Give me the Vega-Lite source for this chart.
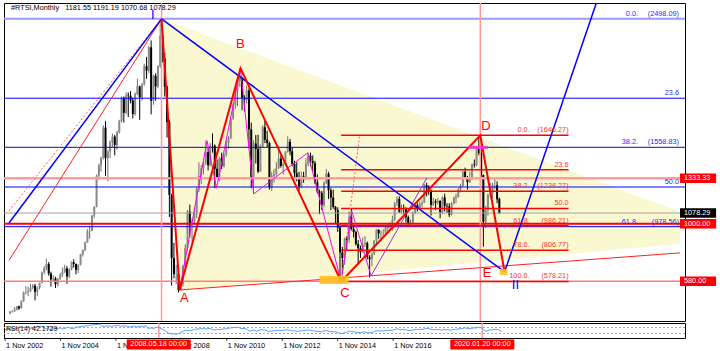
{
"$schema":"https://vega.github.io/schema/vega-lite/v6.json",
"padding":{"left":2,"top":2,"right":0,"bottom":0},
"background":"#ffffff",
"spacing":2,
"bounds":"flush",
"config":{
 "view":{"stroke":"#000000","strokeWidth":1},
 "font":"Liberation Sans",
 "axis":{"labelFont":"Liberation Sans","labelFontSize":7.3,"labelColor":"#000000","tickColor":"#000000","domain":false,"grid":false,"title":null},
 "text":{"font":"Liberation Sans","fontSize":7.3}
},
"datasets":{
 "k":[
{"t":"2002-11-01","o":345,"h":362,"l":338,"c":356,"r":55},
{"t":"2002-12-01","o":356,"h":368,"l":350,"c":359,"r":56},
{"t":"2003-01-01","o":359,"h":392,"l":357,"c":373,"r":58},
{"t":"2003-02-01","o":373,"h":400,"l":366,"c":395,"r":60},
{"t":"2003-03-01","o":395,"h":402,"l":370,"c":383,"r":58},
{"t":"2003-04-01","o":383,"h":440,"l":380,"c":433,"r":63},
{"t":"2003-05-01","o":433,"h":505,"l":430,"c":498,"r":70},
{"t":"2003-06-01","o":498,"h":545,"l":482,"c":501,"r":70},
{"t":"2003-07-01","o":501,"h":540,"l":470,"c":509,"r":70},
{"t":"2003-08-01","o":509,"h":560,"l":500,"c":530,"r":72},
{"t":"2003-09-01","o":530,"h":560,"l":520,"c":547,"r":73},
{"t":"2003-10-01","o":547,"h":560,"l":440,"c":502,"r":65},
{"t":"2003-11-01","o":502,"h":540,"l":470,"c":533,"r":67},
{"t":"2003-12-01","o":533,"h":570,"l":520,"c":567,"r":70},
{"t":"2004-01-01","o":567,"h":650,"l":565,"c":643,"r":75},
{"t":"2004-02-01","o":643,"h":690,"l":630,"c":676,"r":77},
{"t":"2004-03-01","o":676,"h":745,"l":660,"c":705,"r":78},
{"t":"2004-04-01","o":705,"h":720,"l":620,"c":636,"r":68},
{"t":"2004-05-01","o":636,"h":650,"l":540,"c":593,"r":60},
{"t":"2004-06-01","o":593,"h":625,"l":580,"c":600,"r":61},
{"t":"2004-07-01","o":600,"h":612,"l":530,"c":557,"r":56},
{"t":"2004-08-01","o":557,"h":605,"l":540,"c":598,"r":60},
{"t":"2004-09-01","o":598,"h":640,"l":590,"c":627,"r":63},
{"t":"2004-10-01","o":627,"h":680,"l":610,"c":649,"r":65},
{"t":"2004-11-01","o":649,"h":700,"l":640,"c":674,"r":67},
{"t":"2004-12-01","o":674,"h":690,"l":560,"c":614,"r":60},
{"t":"2005-01-01","o":614,"h":675,"l":600,"c":667,"r":65},
{"t":"2005-02-01","o":667,"h":725,"l":660,"c":719,"r":70},
{"t":"2005-03-01","o":719,"h":740,"l":680,"c":706,"r":68},
{"t":"2005-04-01","o":706,"h":710,"l":630,"c":662,"r":62},
{"t":"2005-05-01","o":662,"h":705,"l":640,"c":700,"r":66},
{"t":"2005-06-01","o":700,"h":780,"l":695,"c":776,"r":72},
{"t":"2005-07-01","o":776,"h":812,"l":760,"c":808,"r":74},
{"t":"2005-08-01","o":808,"h":870,"l":800,"c":864,"r":77},
{"t":"2005-09-01","o":864,"h":960,"l":860,"c":945,"r":80},
{"t":"2005-10-01","o":945,"h":980,"l":890,"c":950,"r":80},
{"t":"2005-11-01","o":950,"h":1065,"l":945,"c":1060,"r":83},
{"t":"2005-12-01","o":1060,"h":1128,"l":1040,"c":1125,"r":85},
{"t":"2006-01-01","o":1125,"h":1360,"l":1120,"c":1350,"r":88},
{"t":"2006-02-01","o":1350,"h":1440,"l":1320,"c":1426,"r":89},
{"t":"2006-03-01","o":1426,"h":1490,"l":1380,"c":1481,"r":90},
{"t":"2006-04-01","o":1481,"h":1720,"l":1470,"c":1703,"r":92},
{"t":"2006-05-01","o":1703,"h":1750,"l":1350,"c":1480,"r":78},
{"t":"2006-06-01","o":1480,"h":1540,"l":1310,"c":1526,"r":79},
{"t":"2006-07-01","o":1526,"h":1610,"l":1480,"c":1596,"r":80},
{"t":"2006-08-01","o":1596,"h":1660,"l":1560,"c":1637,"r":81},
{"t":"2006-09-01","o":1637,"h":1650,"l":1500,"c":1576,"r":77},
{"t":"2006-10-01","o":1576,"h":1680,"l":1540,"c":1670,"r":80},
{"t":"2006-11-01","o":1670,"h":1760,"l":1660,"c":1750,"r":82},
{"t":"2006-12-01","o":1750,"h":1930,"l":1740,"c":1921,"r":85},
{"t":"2007-01-01","o":1921,"h":1930,"l":1740,"c":1811,"r":78},
{"t":"2007-02-01","o":1811,"h":1960,"l":1800,"c":1938,"r":81},
{"t":"2007-03-01","o":1938,"h":1960,"l":1780,"c":1935,"r":80},
{"t":"2007-04-01","o":1935,"h":1970,"l":1880,"c":1901,"r":78},
{"t":"2007-05-01","o":1901,"h":1920,"l":1770,"c":1802,"r":73},
{"t":"2007-06-01","o":1802,"h":1960,"l":1790,"c":1950,"r":77},
{"t":"2007-07-01","o":1950,"h":2060,"l":1940,"c":2005,"r":79},
{"t":"2007-08-01","o":2005,"h":2010,"l":1760,"c":1924,"r":73},
{"t":"2007-09-01","o":1924,"h":2030,"l":1900,"c":2020,"r":77},
{"t":"2007-10-01","o":2020,"h":2170,"l":2010,"c":2153,"r":80},
{"t":"2007-11-01","o":2153,"h":2220,"l":2060,"c":2119,"r":78},
{"t":"2007-12-01","o":2119,"h":2300,"l":2100,"c":2290,"r":81},
{"t":"2008-01-01","o":2290,"h":2340,"l":1800,"c":1897,"r":62},
{"t":"2008-02-01","o":1897,"h":2090,"l":1870,"c":2082,"r":68},
{"t":"2008-03-01","o":2082,"h":2100,"l":1900,"c":2004,"r":64},
{"t":"2008-04-01","o":2004,"h":2160,"l":1990,"c":2151,"r":68},
{"t":"2008-05-01","o":2151,"h":2498,"l":2140,"c":2374,"r":73},
{"t":"2008-06-01","o":2374,"h":2420,"l":2180,"c":2209,"r":66},
{"t":"2008-07-01","o":2209,"h":2250,"l":1930,"c":2003,"r":60},
{"t":"2008-08-01","o":2003,"h":2010,"l":1630,"c":1743,"r":52},
{"t":"2008-09-01","o":1743,"h":1760,"l":1050,"c":1211,"r":40},
{"t":"2008-10-01","o":1211,"h":1220,"l":549,"c":749,"r":30},
{"t":"2008-11-01","o":749,"h":860,"l":600,"c":632,"r":28},
{"t":"2008-12-01","o":632,"h":700,"l":560,"c":632,"r":28},
{"t":"2009-01-01","o":632,"h":640,"l":498,"c":513,"r":26},
{"t":"2009-02-01","o":513,"h":570,"l":510,"c":557,"r":29},
{"t":"2009-03-01","o":557,"h":700,"l":540,"c":689,"r":37},
{"t":"2009-04-01","o":689,"h":850,"l":650,"c":822,"r":43},
{"t":"2009-05-01","o":822,"h":1100,"l":800,"c":1088,"r":53},
{"t":"2009-06-01","o":1088,"h":1140,"l":900,"c":987,"r":49},
{"t":"2009-07-01","o":987,"h":1040,"l":870,"c":1018,"r":50},
{"t":"2009-08-01","o":1018,"h":1120,"l":990,"c":1074,"r":52},
{"t":"2009-09-01","o":1074,"h":1270,"l":1040,"c":1254,"r":57},
{"t":"2009-10-01","o":1254,"h":1450,"l":1230,"c":1350,"r":60},
{"t":"2009-11-01","o":1350,"h":1430,"l":1290,"c":1406,"r":61},
{"t":"2009-12-01","o":1406,"h":1460,"l":1360,"c":1444,"r":62},
{"t":"2010-01-01","o":1444,"h":1610,"l":1430,"c":1524,"r":64},
{"t":"2010-02-01","o":1524,"h":1560,"l":1390,"c":1427,"r":59},
{"t":"2010-03-01","o":1427,"h":1590,"l":1420,"c":1572,"r":63},
{"t":"2010-04-01","o":1572,"h":1660,"l":1520,"c":1571,"r":63},
{"t":"2010-05-01","o":1571,"h":1580,"l":1260,"c":1402,"r":56},
{"t":"2010-06-01","o":1402,"h":1470,"l":1330,"c":1339,"r":53},
{"t":"2010-07-01","o":1339,"h":1490,"l":1310,"c":1479,"r":58},
{"t":"2010-08-01","o":1479,"h":1520,"l":1400,"c":1421,"r":56},
{"t":"2010-09-01","o":1421,"h":1520,"l":1410,"c":1507,"r":59},
{"t":"2010-10-01","o":1507,"h":1610,"l":1490,"c":1588,"r":61},
{"t":"2010-11-01","o":1588,"h":1640,"l":1550,"c":1627,"r":62},
{"t":"2010-12-01","o":1627,"h":1780,"l":1620,"c":1770,"r":66},
{"t":"2011-01-01","o":1770,"h":1880,"l":1760,"c":1869,"r":68},
{"t":"2011-02-01","o":1869,"h":2000,"l":1840,"c":1980,"r":70},
{"t":"2011-03-01","o":1980,"h":2060,"l":1860,"c":2044,"r":71},
{"t":"2011-04-01","o":2044,"h":2136,"l":2000,"c":2069,"r":72},
{"t":"2011-05-01","o":2069,"h":2070,"l":1830,"c":1922,"r":64},
{"t":"2011-06-01","o":1922,"h":1940,"l":1820,"c":1906,"r":63},
{"t":"2011-07-01","o":1906,"h":2010,"l":1880,"c":1975,"r":65},
{"t":"2011-08-01","o":1975,"h":1990,"l":1550,"c":1690,"r":55},
{"t":"2011-09-01","o":1690,"h":1740,"l":1260,"c":1342,"r":44},
{"t":"2011-10-01","o":1342,"h":1610,"l":1220,"c":1587,"r":52},
{"t":"2011-11-01","o":1587,"h":1650,"l":1440,"c":1547,"r":51},
{"t":"2011-12-01","o":1547,"h":1650,"l":1370,"c":1382,"r":46},
{"t":"2012-01-01","o":1382,"h":1580,"l":1380,"c":1564,"r":52},
{"t":"2012-02-01","o":1564,"h":1720,"l":1560,"c":1706,"r":56},
{"t":"2012-03-01","o":1706,"h":1750,"l":1590,"c":1615,"r":53},
{"t":"2012-04-01","o":1615,"h":1680,"l":1560,"c":1590,"r":52},
{"t":"2012-05-01","o":1590,"h":1600,"l":1250,"c":1267,"r":43},
{"t":"2012-06-01","o":1267,"h":1380,"l":1240,"c":1350,"r":46},
{"t":"2012-07-01","o":1350,"h":1400,"l":1300,"c":1362,"r":47},
{"t":"2012-08-01","o":1362,"h":1450,"l":1350,"c":1408,"r":49},
{"t":"2012-09-01","o":1408,"h":1570,"l":1400,"c":1476,"r":51},
{"t":"2012-10-01","o":1476,"h":1500,"l":1410,"c":1423,"r":49},
{"t":"2012-11-01","o":1423,"h":1450,"l":1360,"c":1436,"r":50},
{"t":"2012-12-01","o":1436,"h":1530,"l":1430,"c":1527,"r":53},
{"t":"2013-01-01","o":1527,"h":1640,"l":1520,"c":1600,"r":55},
{"t":"2013-02-01","o":1600,"h":1620,"l":1500,"c":1530,"r":52},
{"t":"2013-03-01","o":1530,"h":1560,"l":1420,"c":1438,"r":49},
{"t":"2013-04-01","o":1438,"h":1460,"l":1330,"c":1370,"r":47},
{"t":"2013-05-01","o":1370,"h":1450,"l":1310,"c":1334,"r":46},
{"t":"2013-06-01","o":1334,"h":1380,"l":1240,"c":1275,"r":44},
{"t":"2013-07-01","o":1275,"h":1380,"l":1260,"c":1346,"r":48},
{"t":"2013-08-01","o":1346,"h":1380,"l":1300,"c":1340,"r":48},
{"t":"2013-09-01","o":1340,"h":1480,"l":1320,"c":1440,"r":51},
{"t":"2013-10-01","o":1440,"h":1520,"l":1420,"c":1499,"r":53},
{"t":"2013-11-01","o":1499,"h":1520,"l":1420,"c":1460,"r":51},
{"t":"2013-12-01","o":1460,"h":1500,"l":1380,"c":1443,"r":51},
{"t":"2014-01-01","o":1443,"h":1460,"l":1290,"c":1302,"r":46},
{"t":"2014-02-01","o":1302,"h":1360,"l":1220,"c":1236,"r":44},
{"t":"2014-03-01","o":1236,"h":1250,"l":1070,"c":1226,"r":44},
{"t":"2014-04-01","o":1226,"h":1240,"l":1100,"c":1136,"r":41},
{"t":"2014-05-01","o":1136,"h":1310,"l":1120,"c":1299,"r":47},
{"t":"2014-06-01","o":1299,"h":1400,"l":1290,"c":1366,"r":50},
{"t":"2014-07-01","o":1366,"h":1380,"l":1180,"c":1244,"r":46},
{"t":"2014-08-01","o":1244,"h":1260,"l":1100,"c":1192,"r":44},
{"t":"2014-09-01","o":1192,"h":1250,"l":1110,"c":1124,"r":42},
{"t":"2014-10-01","o":1124,"h":1130,"l":1000,"c":1100,"r":41},
{"t":"2014-11-01","o":1100,"h":1120,"l":940,"c":972,"r":37},
{"t":"2014-12-01","o":972,"h":1000,"l":578,"c":791,"r":31},
{"t":"2015-01-01","o":791,"h":830,"l":629,"c":749,"r":30},
{"t":"2015-02-01","o":749,"h":900,"l":700,"c":890,"r":38},
{"t":"2015-03-01","o":890,"h":910,"l":800,"c":880,"r":38},
{"t":"2015-04-01","o":880,"h":1090,"l":860,"c":1051,"r":47},
{"t":"2015-05-01","o":1051,"h":1110,"l":950,"c":961,"r":43},
{"t":"2015-06-01","o":961,"h":990,"l":900,"c":940,"r":42},
{"t":"2015-07-01","o":940,"h":950,"l":840,"c":852,"r":38},
{"t":"2015-08-01","o":852,"h":880,"l":710,"c":821,"r":37},
{"t":"2015-09-01","o":821,"h":840,"l":750,"c":792,"r":36},
{"t":"2015-10-01","o":792,"h":900,"l":790,"c":850,"r":40},
{"t":"2015-11-01","o":850,"h":910,"l":830,"c":859,"r":40},
{"t":"2015-12-01","o":859,"h":870,"l":740,"c":757,"r":35},
{"t":"2016-01-01","o":757,"h":770,"l":607,"c":740,"r":34},
{"t":"2016-02-01","o":740,"h":790,"l":690,"c":782,"r":38},
{"t":"2016-03-01","o":782,"h":880,"l":770,"c":876,"r":44},
{"t":"2016-04-01","o":876,"h":960,"l":850,"c":956,"r":49},
{"t":"2016-05-01","o":956,"h":960,"l":890,"c":929,"r":47},
{"t":"2016-06-01","o":929,"h":950,"l":870,"c":930,"r":47},
{"t":"2016-07-01","o":930,"h":960,"l":900,"c":931,"r":47},
{"t":"2016-08-01","o":931,"h":985,"l":920,"c":971,"r":50},
{"t":"2016-09-01","o":971,"h":1000,"l":940,"c":989,"r":51},
{"t":"2016-10-01","o":989,"h":1010,"l":960,"c":990,"r":51},
{"t":"2016-11-01","o":990,"h":1060,"l":950,"c":1031,"r":53},
{"t":"2016-12-01","o":1031,"h":1160,"l":1020,"c":1152,"r":59},
{"t":"2017-01-01","o":1152,"h":1200,"l":1130,"c":1182,"r":61},
{"t":"2017-02-01","o":1182,"h":1200,"l":1080,"c":1086,"r":55},
{"t":"2017-03-01","o":1086,"h":1140,"l":1070,"c":1114,"r":57},
{"t":"2017-04-01","o":1114,"h":1140,"l":1070,"c":1113,"r":57},
{"t":"2017-05-01","o":1113,"h":1120,"l":1010,"c":1048,"r":53},
{"t":"2017-06-01","o":1048,"h":1060,"l":980,"c":1001,"r":50},
{"t":"2017-07-01","o":1001,"h":1030,"l":990,"c":1007,"r":51},
{"t":"2017-08-01","o":1007,"h":1090,"l":1000,"c":1079,"r":55},
{"t":"2017-09-01","o":1079,"h":1140,"l":1070,"c":1136,"r":58},
{"t":"2017-10-01","o":1136,"h":1150,"l":1090,"c":1113,"r":56},
{"t":"2017-11-01","o":1113,"h":1160,"l":1100,"c":1143,"r":58},
{"t":"2017-12-01","o":1143,"h":1170,"l":1120,"c":1154,"r":58},
{"t":"2018-01-01","o":1154,"h":1290,"l":1150,"c":1282,"r":64},
{"t":"2018-02-01","o":1282,"h":1300,"l":1200,"c":1268,"r":63},
{"t":"2018-03-01","o":1268,"h":1280,"l":1210,"c":1244,"r":61},
{"t":"2018-04-01","o":1244,"h":1250,"l":1060,"c":1138,"r":55},
{"t":"2018-05-01","o":1138,"h":1190,"l":1130,"c":1163,"r":57},
{"t":"2018-06-01","o":1163,"h":1180,"l":1100,"c":1154,"r":56},
{"t":"2018-07-01","o":1154,"h":1190,"l":1140,"c":1168,"r":57},
{"t":"2018-08-01","o":1168,"h":1170,"l":1040,"c":1084,"r":52},
{"t":"2018-09-01","o":1084,"h":1200,"l":1070,"c":1193,"r":58},
{"t":"2018-10-01","o":1193,"h":1220,"l":1090,"c":1130,"r":55},
{"t":"2018-11-01","o":1130,"h":1150,"l":1080,"c":1127,"r":55},
{"t":"2018-12-01","o":1127,"h":1150,"l":1050,"c":1066,"r":51},
{"t":"2019-01-01","o":1066,"h":1160,"l":1060,"c":1149,"r":56},
{"t":"2019-02-01","o":1149,"h":1200,"l":1140,"c":1189,"r":58},
{"t":"2019-03-01","o":1189,"h":1220,"l":1150,"c":1198,"r":59},
{"t":"2019-04-01","o":1198,"h":1260,"l":1190,"c":1251,"r":62},
{"t":"2019-05-01","o":1251,"h":1290,"l":1230,"c":1278,"r":63},
{"t":"2019-06-01","o":1278,"h":1390,"l":1270,"c":1380,"r":68},
{"t":"2019-07-01","o":1380,"h":1410,"l":1330,"c":1340,"r":65},
{"t":"2019-08-01","o":1340,"h":1350,"l":1250,"c":1304,"r":62},
{"t":"2019-09-01","o":1304,"h":1380,"l":1300,"c":1334,"r":64},
{"t":"2019-10-01","o":1334,"h":1440,"l":1320,"c":1433,"r":68},
{"t":"2019-11-01","o":1433,"h":1470,"l":1410,"c":1428,"r":67},
{"t":"2019-12-01","o":1428,"h":1560,"l":1420,"c":1549,"r":72},
{"t":"2020-01-01","o":1549,"h":1646,"l":1500,"c":1517,"r":69},
{"t":"2020-02-01","o":1517,"h":1580,"l":1340,"c":1355,"r":60},
{"t":"2020-03-01","o":1355,"h":1360,"l":832,"c":1014,"r":45},
{"t":"2020-04-01","o":1014,"h":1130,"l":970,"c":1100,"r":50},
{"t":"2020-05-01","o":1100,"h":1220,"l":1060,"c":1211,"r":55},
{"t":"2020-06-01","o":1211,"h":1300,"l":1190,"c":1213,"r":55},
{"t":"2020-07-01","o":1213,"h":1300,"l":1180,"c":1282,"r":58},
{"t":"2020-08-01","o":1282,"h":1330,"l":1250,"c":1282,"r":58},
{"t":"2020-09-01","o":1282,"h":1310,"l":1150,"c":1179,"r":52},
{"t":"2020-10-01","o":1181.55,"h":1191.19,"l":1070.68,"c":1078.29,"r":42.17}
 ],
 "tri":[
  {"t":"2008-05-19","v":2498.09,"v2":2498.09},
  {"t":"2009-01-15","v":2450,"v2":516},
  {"t":"2027-05-14","v":1087,"v2":853}
 ],
 "bf":[
  {"v":2498.09,"a":"0.0.","p":"(2498.09)"},
  {"v":1917.8,"a":"23.6","p":""},
  {"v":1558.83,"a":"38.2.","p":"(1558.83)"},
  {"v":1268.7,"a":"50.0","p":""},
  {"v":978.56,"a":"61.8.","p":"(978.56)"}
 ],
 "rf":[
  {"v":1646.27,"a":"0.0.","p":"(1646.27)"},
  {"v":1394.2,"a":"23.6","p":""},
  {"v":1238.27,"a":"38.2.","p":"(1238.27)"},
  {"v":1112.24,"a":"50.0","p":""},
  {"v":986.21,"a":"61.8.","p":"(986.21)"},
  {"v":806.77,"a":"78.6.","p":"(806.77)"},
  {"v":578.21,"a":"100.0.","p":"(578.21)"}
 ],
 "hl":[
  {"v":1333.33,"k":"pk"},
  {"v":1000,"k":"r"},
  {"v":580,"k":"r2"},
  {"v":1078.29,"k":"g"}
 ],
 "vl":[
  {"t":"2008-05-19"},
  {"t":"2020-01-20"}
 ],
 "ax":[
  {"t":"2002-11-01"},{"t":"2004-11-01"},{"t":"2006-11-01"},{"t":"2008-11-01"},
  {"t":"2010-11-01"},{"t":"2012-11-01"},{"t":"2014-11-01"},{"t":"2016-11-01"}
 ],
 "ln":[
  {"g":"B","id":1,"t":"2002-10-18","v":1006},
  {"g":"B","id":1,"t":"2008-05-19","v":2498.09},
  {"g":"B","id":2,"t":"2008-05-19","v":2498.09},
  {"g":"B","id":2,"t":"2020-12-10","v":648},
  {"g":"B","id":3,"t":"2020-12-10","v":648},
  {"g":"B","id":3,"t":"2024-04-20","v":2614},
  {"g":"R","id":4,"t":"2008-05-19","v":2498.09},
  {"g":"R","id":4,"t":"2009-01-15","v":516},
  {"g":"R","id":4,"t":"2011-04-10","v":2136},
  {"g":"R","id":4,"t":"2014-12-16","v":578.21},
  {"g":"R","id":4,"t":"2020-01-20","v":1646.27},
  {"g":"R","id":4,"t":"2020-12-10","v":648},
  {"g":"r","id":5,"t":"2002-10-18","v":732},
  {"g":"r","id":5,"t":"2008-05-19","v":2498.09},
  {"g":"r","id":6,"t":"2009-01-15","v":516},
  {"g":"r","id":6,"t":"2027-05-14","v":787},
  {"g":"r","id":7,"t":"2014-12-16","v":578.21},
  {"g":"r","id":7,"t":"2020-01-20","v":1646.27},
  {"g":"rd","id":8,"t":"2002-10-18","v":1094},
  {"g":"rd","id":8,"t":"2008-05-19","v":2498.09},
  {"g":"rd","id":9,"t":"2014-12-16","v":578.21},
  {"g":"rd","id":9,"t":"2015-08-20","v":1646.27},
  {"g":"m","id":10,"t":"2009-01-15","v":516},
  {"g":"m","id":10,"t":"2010-01-18","v":1606},
  {"g":"m","id":10,"t":"2010-05-25","v":1260},
  {"g":"m","id":10,"t":"2011-04-10","v":2136},
  {"g":"m","id":10,"t":"2011-10-04","v":1218},
  {"g":"m","id":10,"t":"2013-09-24","v":1518},
  {"g":"m","id":10,"t":"2014-12-16","v":578.21},
  {"g":"m","id":10,"t":"2015-05-07","v":1094},
  {"g":"m","id":10,"t":"2016-01-20","v":619},
  {"g":"p","id":11,"t":"2016-01-20","v":619},
  {"g":"p","id":11,"t":"2018-02-05","v":1335}
 ],
 "bx":[
  {"t1":"2014-03-01","t2":"2015-03-27","v1":619,"v2":560,"k":"o"},
  {"t1":"2020-10-05","t2":"2021-01-20","v1":670,"v2":626,"k":"o"},
  {"t1":"2019-08-12","t2":"2020-05-01","v1":1569,"v2":1547,"k":"p"}
 ],
 "lt":[
  {"t":"2009-03-20","v":458,"s":"A","k":"r"},
  {"t":"2011-04-08","v":2315,"s":"B","k":"r"},
  {"t":"2015-02-05","v":495,"s":"C","k":"r"},
  {"t":"2020-04-05","v":1715,"s":"D","k":"r"},
  {"t":"2020-04-20","v":641,"s":"E","k":"r"},
  {"t":"2008-01-22","v":2527,"s":"I","k":"b"},
  {"t":"2021-05-04","v":553,"s":"II","k":"b"}
 ],
 "tag":[
  {"v":1333.33,"lab":"1333.33","k":"r"},
  {"v":1078.29,"lab":"1078.29","k":"k"},
  {"v":1000,"lab":"1000.00","k":"r"},
  {"v":580,"lab":"580.00","k":"r"}
 ]
},
"vconcat":[
{
 "width":681,"height":318,
 "layer":[
  {"data":{"name":"tri"},"mark":{"type":"area","color":"#faf8d0","opacity":1},
   "encoding":{
    "x":{"field":"t","type":"temporal","scale":{"type":"utc","domain":[{"year":2002,"month":10,"date":18,"utc":true},{"year":2027,"month":5,"date":14,"utc":true}]},"axis":null},
    "y":{"field":"v","type":"quantitative","scale":{"domain":[289,2614]},"axis":{"orient":"right","values":[361,566.8,772.6,978.4,1188.4,1394.2,1604.2,1810,2015.8,2225.8,2431.6],"format":".2f","tickSize":3,"labelPadding":2}},
    "y2":{"field":"v2"}}},
  {"data":{"name":"k"},"mark":{"type":"rule","strokeWidth":1},
   "encoding":{
    "x":{"field":"t","type":"temporal","scale":{"type":"utc","domain":[{"year":2002,"month":10,"date":18,"utc":true},{"year":2027,"month":5,"date":14,"utc":true}]},"axis":null},
    "y":{"field":"l","type":"quantitative","scale":{"domain":[289,2614]},"axis":null},
    "y2":{"field":"h"},
    "color":{"condition":{"test":"datum.c>=datum.o","value":"#707070"},"value":"#000000"}}},
  {"data":{"name":"k"},"mark":{"type":"bar","size":2},
   "encoding":{
    "x":{"field":"t","type":"temporal","scale":{"type":"utc","domain":[{"year":2002,"month":10,"date":18,"utc":true},{"year":2027,"month":5,"date":14,"utc":true}]},"axis":null},
    "y":{"field":"o","type":"quantitative","scale":{"domain":[289,2614]},"axis":null},
    "y2":{"field":"c"},
    "color":{"condition":{"test":"datum.c>=datum.o","value":"#8a8a8a"},"value":"#000000"}}},
  {"data":{"name":"bf"},"mark":{"type":"rule"},
   "encoding":{
    "y":{"field":"v","type":"quantitative","scale":{"domain":[289,2614]},"axis":null},
    "color":{"condition":{"test":"datum.v>2400","value":"#9a9aff"},"value":"#0000ff"},
    "strokeWidth":{"condition":{"test":"datum.v>2400","value":2},"value":1}}},
  {"data":{"name":"hl"},"transform":[{"filter":"datum.k=='pk'"}],"mark":{"type":"rule","color":"#ff9c9c","strokeWidth":2.5},
   "encoding":{"y":{"field":"v","type":"quantitative","scale":{"domain":[289,2614]},"axis":null}}},
  {"data":{"name":"hl"},"transform":[{"filter":"datum.k=='r'"}],"mark":{"type":"rule","color":"#ff0000","strokeWidth":2},
   "encoding":{"y":{"field":"v","type":"quantitative","scale":{"domain":[289,2614]},"axis":null}}},
  {"data":{"name":"hl"},"transform":[{"filter":"datum.k=='r2'"}],"mark":{"type":"rule","color":"#ff7a7a","strokeWidth":1.5},
   "encoding":{"y":{"field":"v","type":"quantitative","scale":{"domain":[289,2614]},"axis":null}}},
  {"data":{"name":"hl"},"transform":[{"filter":"datum.k=='g'"}],"mark":{"type":"rule","color":"#a0a0a0","strokeWidth":1},
   "encoding":{"y":{"field":"v","type":"quantitative","scale":{"domain":[289,2614]},"axis":null}}},
  {"data":{"name":"vl"},"mark":{"type":"rule","color":"#ff9999","strokeWidth":1.5,"clip":true},
   "encoding":{"x":{"field":"t","type":"temporal","scale":{"type":"utc","domain":[{"year":2002,"month":10,"date":18,"utc":true},{"year":2027,"month":5,"date":14,"utc":true}]},"axis":null}}},
  {"data":{"name":"rf"},"mark":{"type":"rule","color":"#ff0000","strokeWidth":1.5},
   "encoding":{
    "x":{"datum":{"year":2014,"month":12,"date":16,"utc":true},"type":"temporal","scale":{"type":"utc","domain":[{"year":2002,"month":10,"date":18,"utc":true},{"year":2027,"month":5,"date":14,"utc":true}]},"axis":null},
    "x2":{"datum":{"year":2023,"month":4,"date":15,"utc":true}},
    "y":{"field":"v","type":"quantitative","scale":{"domain":[289,2614]},"axis":null}}},
  {"data":{"name":"ln"},"transform":[{"filter":"datum.g=='r'"}],"mark":{"type":"line","color":"#ff2020","strokeWidth":1,"clip":true},
   "encoding":{
    "x":{"field":"t","type":"temporal","scale":{"type":"utc","domain":[{"year":2002,"month":10,"date":18,"utc":true},{"year":2027,"month":5,"date":14,"utc":true}]},"axis":null},
    "y":{"field":"v","type":"quantitative","scale":{"domain":[289,2614]},"axis":null},
    "detail":{"field":"id","type":"nominal"}}},
  {"data":{"name":"ln"},"transform":[{"filter":"datum.g=='rd'"}],"mark":{"type":"line","color":"#ff6060","strokeWidth":1,"strokeDash":[2,2],"clip":true},
   "encoding":{
    "x":{"field":"t","type":"temporal","scale":{"type":"utc","domain":[{"year":2002,"month":10,"date":18,"utc":true},{"year":2027,"month":5,"date":14,"utc":true}]},"axis":null},
    "y":{"field":"v","type":"quantitative","scale":{"domain":[289,2614]},"axis":null},
    "detail":{"field":"id","type":"nominal"}}},
  {"data":{"name":"ln"},"transform":[{"filter":"datum.g=='m'"}],"mark":{"type":"line","color":"#ff00ff","strokeWidth":1,"clip":true},
   "encoding":{
    "x":{"field":"t","type":"temporal","scale":{"type":"utc","domain":[{"year":2002,"month":10,"date":18,"utc":true},{"year":2027,"month":5,"date":14,"utc":true}]},"axis":null},
    "y":{"field":"v","type":"quantitative","scale":{"domain":[289,2614]},"axis":null},
    "detail":{"field":"id","type":"nominal"}}},
  {"data":{"name":"ln"},"transform":[{"filter":"datum.g=='p'"}],"mark":{"type":"line","color":"#9932cc","strokeWidth":1,"clip":true},
   "encoding":{
    "x":{"field":"t","type":"temporal","scale":{"type":"utc","domain":[{"year":2002,"month":10,"date":18,"utc":true},{"year":2027,"month":5,"date":14,"utc":true}]},"axis":null},
    "y":{"field":"v","type":"quantitative","scale":{"domain":[289,2614]},"axis":null},
    "detail":{"field":"id","type":"nominal"}}},
  {"data":{"name":"ln"},"transform":[{"filter":"datum.g=='B'"}],"mark":{"type":"line","color":"#0000ff","strokeWidth":1.5,"clip":true},
   "encoding":{
    "x":{"field":"t","type":"temporal","scale":{"type":"utc","domain":[{"year":2002,"month":10,"date":18,"utc":true},{"year":2027,"month":5,"date":14,"utc":true}]},"axis":null},
    "y":{"field":"v","type":"quantitative","scale":{"domain":[289,2614]},"axis":null},
    "detail":{"field":"id","type":"nominal"}}},
  {"data":{"name":"ln"},"transform":[{"filter":"datum.g=='R'"}],"mark":{"type":"line","color":"#ff0000","strokeWidth":2,"clip":true},
   "encoding":{
    "x":{"field":"t","type":"temporal","scale":{"type":"utc","domain":[{"year":2002,"month":10,"date":18,"utc":true},{"year":2027,"month":5,"date":14,"utc":true}]},"axis":null},
    "y":{"field":"v","type":"quantitative","scale":{"domain":[289,2614]},"axis":null},
    "detail":{"field":"id","type":"nominal"}}},
  {"data":{"name":"bx"},"mark":{"type":"rect","opacity":0.9},
   "encoding":{
    "x":{"field":"t1","type":"temporal","scale":{"type":"utc","domain":[{"year":2002,"month":10,"date":18,"utc":true},{"year":2027,"month":5,"date":14,"utc":true}]},"axis":null},
    "x2":{"field":"t2"},
    "y":{"field":"v1","type":"quantitative","scale":{"domain":[289,2614]},"axis":null},
    "y2":{"field":"v2"},
    "color":{"condition":{"test":"datum.k=='p'","value":"#ff33cc"},"value":"#ffc020"}}},
  {"data":{"name":"rf"},"transform":[{"filter":"datum.p!=''"}],"mark":{"type":"text","align":"right","baseline":"bottom","dy":-1,"color":"#ff3030"},
   "encoding":{
    "x":{"datum":{"year":2023,"month":4,"date":15,"utc":true},"type":"temporal","scale":{"type":"utc","domain":[{"year":2002,"month":10,"date":18,"utc":true},{"year":2027,"month":5,"date":14,"utc":true}]},"axis":null},
    "y":{"field":"v","type":"quantitative","scale":{"domain":[289,2614]},"axis":null},
    "text":{"field":"p"}}},
  {"data":{"name":"rf"},"transform":[{"filter":"datum.p!=''"}],"mark":{"type":"text","align":"right","baseline":"bottom","dy":-1,"dx":-39,"color":"#ff3030"},
   "encoding":{
    "x":{"datum":{"year":2023,"month":4,"date":15,"utc":true},"type":"temporal","scale":{"type":"utc","domain":[{"year":2002,"month":10,"date":18,"utc":true},{"year":2027,"month":5,"date":14,"utc":true}]},"axis":null},
    "y":{"field":"v","type":"quantitative","scale":{"domain":[289,2614]},"axis":null},
    "text":{"field":"a"}}},
  {"data":{"name":"rf"},"transform":[{"filter":"datum.p==''"}],"mark":{"type":"text","align":"right","baseline":"bottom","dy":-1,"color":"#ff3030"},
   "encoding":{
    "x":{"datum":{"year":2023,"month":4,"date":15,"utc":true},"type":"temporal","scale":{"type":"utc","domain":[{"year":2002,"month":10,"date":18,"utc":true},{"year":2027,"month":5,"date":14,"utc":true}]},"axis":null},
    "y":{"field":"v","type":"quantitative","scale":{"domain":[289,2614]},"axis":null},
    "text":{"field":"a"}}},
  {"data":{"name":"bf"},"transform":[{"filter":"datum.p!=''"}],"mark":{"type":"text","align":"right","baseline":"bottom","dy":-1,"dx":-1,"color":"#2a2aff"},
   "encoding":{
    "x":{"datum":{"year":2027,"month":5,"date":14,"utc":true},"type":"temporal","scale":{"type":"utc","domain":[{"year":2002,"month":10,"date":18,"utc":true},{"year":2027,"month":5,"date":14,"utc":true}]},"axis":null},
    "y":{"field":"v","type":"quantitative","scale":{"domain":[289,2614]},"axis":null},
    "text":{"field":"p"}}},
  {"data":{"name":"bf"},"transform":[{"filter":"datum.p!=''"}],"mark":{"type":"text","align":"right","baseline":"bottom","dy":-1,"dx":-42,"color":"#2a2aff"},
   "encoding":{
    "x":{"datum":{"year":2027,"month":5,"date":14,"utc":true},"type":"temporal","scale":{"type":"utc","domain":[{"year":2002,"month":10,"date":18,"utc":true},{"year":2027,"month":5,"date":14,"utc":true}]},"axis":null},
    "y":{"field":"v","type":"quantitative","scale":{"domain":[289,2614]},"axis":null},
    "text":{"field":"a"}}},
  {"data":{"name":"bf"},"transform":[{"filter":"datum.p==''"}],"mark":{"type":"text","align":"right","baseline":"bottom","dy":-1,"dx":-1,"color":"#2a2aff"},
   "encoding":{
    "x":{"datum":{"year":2027,"month":5,"date":14,"utc":true},"type":"temporal","scale":{"type":"utc","domain":[{"year":2002,"month":10,"date":18,"utc":true},{"year":2027,"month":5,"date":14,"utc":true}]},"axis":null},
    "y":{"field":"v","type":"quantitative","scale":{"domain":[289,2614]},"axis":null},
    "text":{"field":"a"}}},
  {"data":{"name":"lt"},"mark":{"type":"text","fontSize":13,"align":"center","baseline":"middle"},
   "encoding":{
    "x":{"field":"t","type":"temporal","scale":{"type":"utc","domain":[{"year":2002,"month":10,"date":18,"utc":true},{"year":2027,"month":5,"date":14,"utc":true}]},"axis":null},
    "y":{"field":"v","type":"quantitative","scale":{"domain":[289,2614]},"axis":null},
    "text":{"field":"s"},
    "color":{"condition":{"test":"datum.k=='b'","value":"#0000ff"},"value":"#ff0000"}}},
  {"data":{"name":"tag"},"mark":{"type":"point","shape":"M0,-0.5H3.8V0.5H0Z","size":361,"filled":true,"opacity":1,"strokeWidth":0},
   "encoding":{
    "x":{"datum":{"year":2027,"month":5,"date":14,"utc":true},"type":"temporal","scale":{"type":"utc","domain":[{"year":2002,"month":10,"date":18,"utc":true},{"year":2027,"month":5,"date":14,"utc":true}]},"axis":null},
    "y":{"field":"v","type":"quantitative","scale":{"domain":[289,2614]},"axis":null},
    "color":{"condition":{"test":"datum.k=='k'","value":"#000000"},"value":"#ff0000"}}},
  {"data":{"name":"tag"},"mark":{"type":"text","align":"left","baseline":"middle","dx":4,"color":"#ffffff"},
   "encoding":{
    "x":{"datum":{"year":2027,"month":5,"date":14,"utc":true},"type":"temporal","scale":{"type":"utc","domain":[{"year":2002,"month":10,"date":18,"utc":true},{"year":2027,"month":5,"date":14,"utc":true}]},"axis":null},
    "y":{"field":"v","type":"quantitative","scale":{"domain":[289,2614]},"axis":null},
    "text":{"field":"lab"}}},
  {"data":{"values":[{"s":"#RTSI,Monthly\u00a0\u00a0\u00a01181.55 1191.19 1070.68 1078.29"}]},"mark":{"type":"text","align":"left","baseline":"middle","dx":2,"color":"#000000"},
   "encoding":{
    "x":{"datum":{"year":2002,"month":10,"date":18,"utc":true},"type":"temporal","scale":{"type":"utc","domain":[{"year":2002,"month":10,"date":18,"utc":true},{"year":2027,"month":5,"date":14,"utc":true}]},"axis":null},
    "y":{"datum":2577,"type":"quantitative","scale":{"domain":[289,2614]},"axis":null},
    "text":{"field":"s"}}}
 ]
},
{
 "width":681,"height":15,
 "layer":[
  {"data":{"values":[{"v":70},{"v":30}]},"mark":{"type":"rule","color":"#a8a8a8","strokeDash":[2,2],"strokeWidth":1},
   "encoding":{"y":{"field":"v","type":"quantitative","scale":{"domain":[0,100]},"axis":{"orient":"right","values":[70,30],"labelOverlap":false,"tickSize":3,"labelPadding":2,"labelFontSize":7}}}},
  {"data":{"name":"vl"},"mark":{"type":"rule","color":"#ff9999","strokeWidth":1.5,"clip":true},
   "encoding":{"x":{"field":"t","type":"temporal","scale":{"type":"utc","domain":[{"year":2002,"month":10,"date":18,"utc":true},{"year":2027,"month":5,"date":14,"utc":true}]},"axis":null}}},
  {"data":{"name":"k"},"mark":{"type":"line","color":"#4f9fff","strokeWidth":1,"clip":true},
   "encoding":{
    "x":{"field":"t","type":"temporal","scale":{"type":"utc","domain":[{"year":2002,"month":10,"date":18,"utc":true},{"year":2027,"month":5,"date":14,"utc":true}]},"axis":null},
    "y":{"field":"r","type":"quantitative","scale":{"domain":[0,100]},"axis":null}}},
  {"data":{"name":"ax"},"mark":{"type":"text","align":"left","baseline":"top","dx":1,"dy":4,"color":"#000000"},
   "encoding":{
    "x":{"field":"t","type":"temporal","scale":{"type":"utc","domain":[{"year":2002,"month":10,"date":18,"utc":true},{"year":2027,"month":5,"date":14,"utc":true}]},"axis":null},
    "y":{"datum":0,"type":"quantitative","scale":{"domain":[0,100]},"axis":null},
    "text":{"field":"t","type":"temporal","format":"%-d %b %Y"}}},
  {"data":{"name":"ax"},"mark":{"type":"tick","orient":"vertical","color":"#000000","size":3,"thickness":1,"yOffset":1.5},
   "encoding":{
    "x":{"field":"t","type":"temporal","scale":{"type":"utc","domain":[{"year":2002,"month":10,"date":18,"utc":true},{"year":2027,"month":5,"date":14,"utc":true}]},"axis":null},
    "y":{"datum":0,"type":"quantitative","scale":{"domain":[0,100]},"axis":null}}},
  {"data":{"values":[{"s":"RSI(14) 42.1729"}]},"mark":{"type":"text","align":"left","baseline":"middle","dx":2,"color":"#000000","fontSize":7},
   "encoding":{
    "x":{"datum":{"year":2002,"month":10,"date":18,"utc":true},"type":"temporal","scale":{"type":"utc","domain":[{"year":2002,"month":10,"date":18,"utc":true},{"year":2027,"month":5,"date":14,"utc":true}]},"axis":null},
    "y":{"datum":60,"type":"quantitative","scale":{"domain":[0,100]},"axis":null},
    "text":{"field":"s"}}},
  {"data":{"values":[{"t":"2008-05-18","s":"2008.05.18 00:00"},{"t":"2020-01-20","s":"2020.01.20 00:00"}]},"mark":{"type":"point","shape":"M-3.2,-0.5H3.2V0.5H-3.2Z","size":400,"filled":true,"opacity":1,"strokeWidth":0,"color":"#ff0000"},
   "encoding":{
    "x":{"field":"t","type":"temporal","scale":{"type":"utc","domain":[{"year":2002,"month":10,"date":18,"utc":true},{"year":2027,"month":5,"date":14,"utc":true}]},"axis":null},
    "y":{"datum":-43,"type":"quantitative","scale":{"domain":[0,100]},"axis":null}}},
  {"data":{"values":[{"t":"2008-05-18","s":"2008.05.18 00:00"},{"t":"2020-01-20","s":"2020.01.20 00:00"}]},"mark":{"type":"text","align":"center","baseline":"middle","color":"#ffffff"},
   "encoding":{
    "x":{"field":"t","type":"temporal","scale":{"type":"utc","domain":[{"year":2002,"month":10,"date":18,"utc":true},{"year":2027,"month":5,"date":14,"utc":true}]},"axis":null},
    "y":{"datum":-43,"type":"quantitative","scale":{"domain":[0,100]},"axis":null},
    "text":{"field":"s"}}}
 ]
}
]
}
